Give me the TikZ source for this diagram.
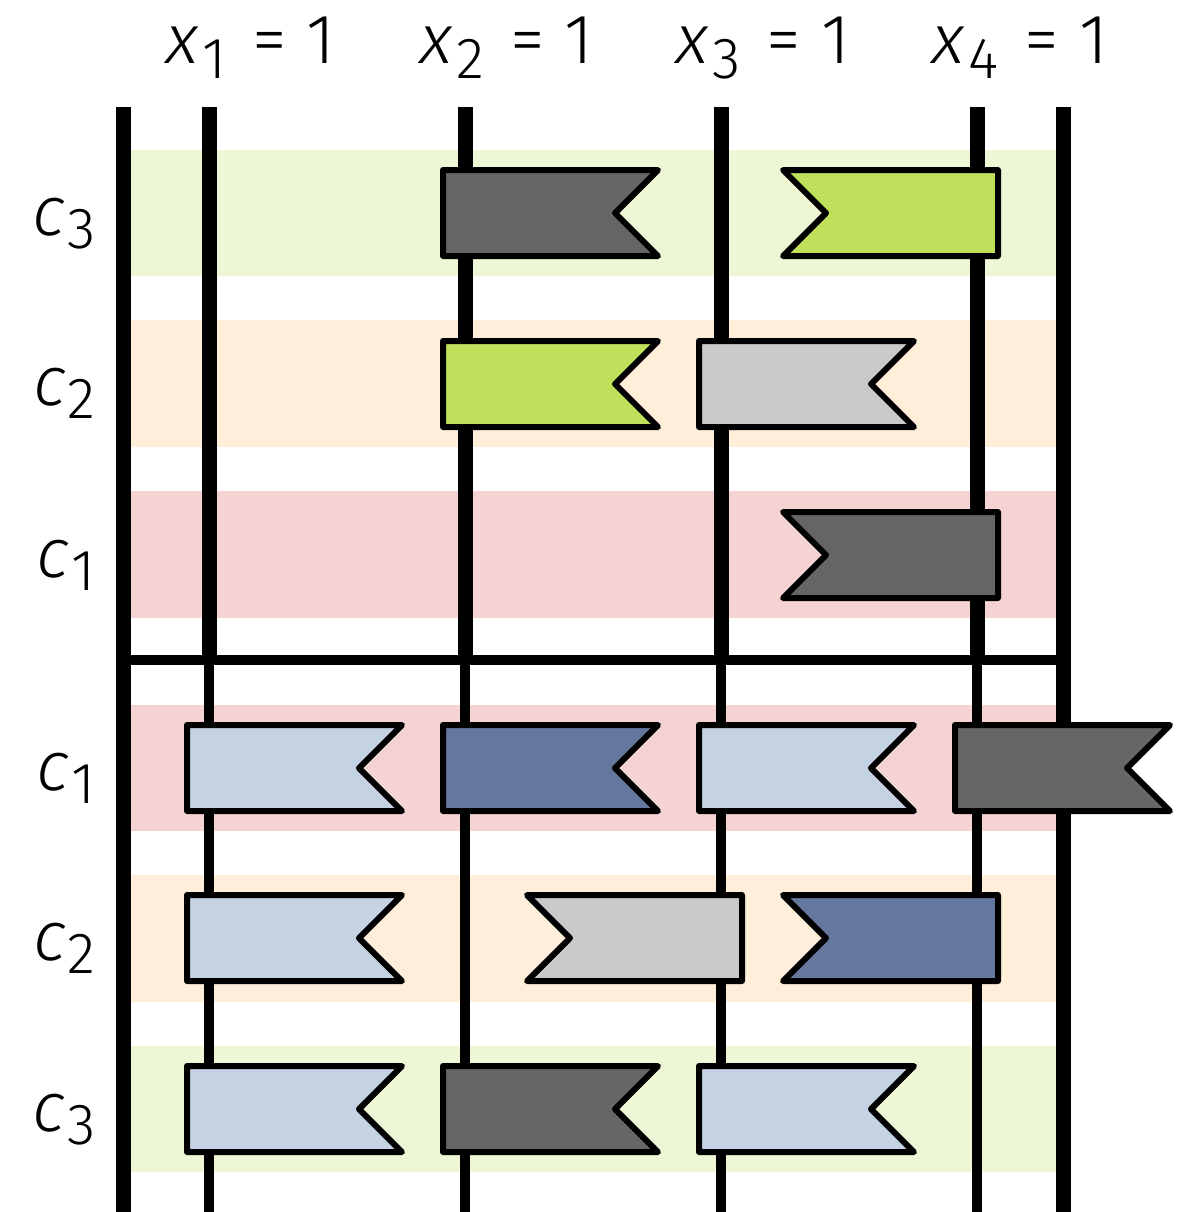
\documentclass[tikz,border=0pt]{standalone}
\usepackage{fontspec}
\newfontfamily\labfont{Fira Sans Light}
\newfontfamily\labitfont{Fira Sans Light Italic}
\newfontfamily\labslfont{Fira Sans Light}[FakeSlant=0.15]
\definecolor{bandG}{HTML}{EDF7D6}
\definecolor{bandO}{HTML}{FFEEDA}
\definecolor{bandP}{HTML}{F6D3D3}
\definecolor{fGreen}{HTML}{C0E05C}
\definecolor{fDark}{HTML}{666666}
\definecolor{fGray}{HTML}{CACACA}
\definecolor{fLBlue}{HTML}{C5D2E3}
\definecolor{fDBlue}{HTML}{64789E}
\tikzset{
  outerline/.style={line width=7.5pt},
  upline/.style={line width=7.5pt},
  lowline/.style={line width=4.6pt},
  flagshape/.style={line width=3pt, line join=round, draw=black},
  labtext/.style={inner sep=0pt, font=\labfont\fontsize{35pt}{40pt}\selectfont},
}
\newcommand\rflag[3]{\draw[flagshape,fill=#3] (#1-22,#2-43) -- ++(215,0) -- ++(-43,43) -- ++(43,43) -- ++(-215,0) -- cycle;}
\newcommand\lflag[3]{\draw[flagshape,fill=#3] (#1+21,#2-43) -- ++(0,86) -- ++(-215,0) -- ++(43,-43) -- ++(-43,-43) -- cycle;}
\newcommand\xlab[1]{{\labslfont x}\hspace{3.5pt}\raisebox{-7.5pt}{\fontsize{29pt}{30pt}\selectfont #1}\hspace{13pt}=\hspace{10pt}1}
\newcommand\clab[1]{{\labitfont c}\hspace{1pt}\raisebox{-6.5pt}{\fontsize{29pt}{30pt}\selectfont #1}}
\begin{document}
\begin{tikzpicture}[x=0.5pt,y=-0.5pt]
\useasboundingbox (0,0) rectangle (1178,1212);
% bands
\fill[bandG] (123,150) rectangle (1063,276);
\fill[bandO] (123,320) rectangle (1063,447);
\fill[bandP] (123,491) rectangle (1063,618);
\fill[bandP] (123,705) rectangle (1063,831);
\fill[bandO] (123,875) rectangle (1063,1002);
\fill[bandG] (123,1046) rectangle (1063,1172);
% lines
\draw[outerline] (123,107) -- (123,1212);
\draw[outerline] (1063,107) -- (1063,1212);
\foreach \xx in {209,465,721,977}{
  \draw[upline] (\xx,107) -- (\xx,660);
  \draw[lowline] (\xx,660) -- (\xx,1212);
}
\draw[lowline] (123,660) -- (1063,660);
% top half flags
\rflag{465}{213}{fDark}
\lflag{977}{213}{fGreen}
\rflag{465}{384}{fGreen}
\rflag{721}{384}{fGray}
\lflag{977}{555}{fDark}
% bottom half flags
\rflag{209}{768}{fLBlue}
\rflag{465}{768}{fDBlue}
\rflag{721}{768}{fLBlue}
\rflag{977}{768}{fDark}
\rflag{209}{938}{fLBlue}
\lflag{721}{938}{fGray}
\lflag{977}{938}{fDBlue}
\rflag{209}{1109}{fLBlue}
\rflag{465}{1109}{fDark}
\rflag{721}{1109}{fLBlue}
% column labels
\node[labtext, anchor=base west] (lx1) at (163,63) {\xlab{1}};
\node[labtext, anchor=base west] (lx2) at (417,63) {\xlab{2}};
\node[labtext, anchor=base west] (lx3) at (673,63) {\xlab{3}};
\node[labtext, anchor=base west] (lx4) at (929,63) {\xlab{4}};
% row labels
\node[labtext, anchor=base east] (r1) at (96,235) {\clab{3}};
\node[labtext, anchor=base east] (r2) at (96,405) {\clab{2}};
\node[labtext, anchor=base east] (r3) at (96,577) {\clab{1}};
\node[labtext, anchor=base east] (r4) at (96,790) {\clab{1}};
\node[labtext, anchor=base east] (r5) at (96,960) {\clab{2}};
\node[labtext, anchor=base east] (r6) at (96,1131) {\clab{3}};
\end{tikzpicture}
\end{document}
